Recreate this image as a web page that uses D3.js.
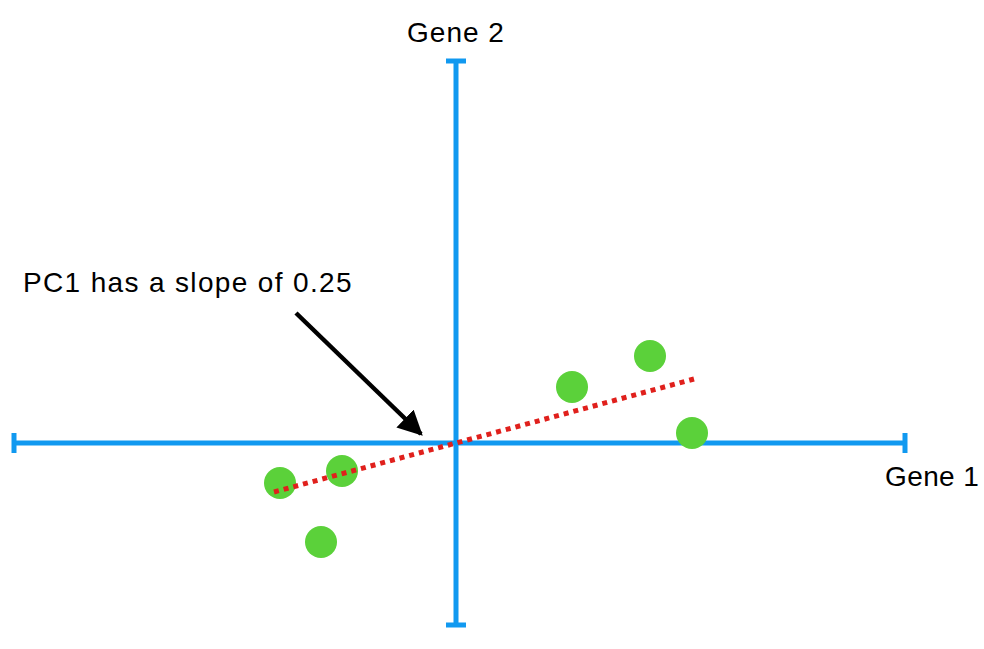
<!DOCTYPE html>
<html>
<head>
<meta charset="utf-8">
<script src="https://cdn.jsdelivr.net/npm/d3@7"></script>
<style>
  html, body { margin: 0; padding: 0; background: #fff; }
  svg { display: block; }
  text { font-family: "Liberation Sans", Arial, Helvetica, sans-serif; fill: #000; }
</style>
</head>
<body>
<script>
// Data (gene-space coordinates)
const gene1 = [-8.8, -5.7, -6.75, 5.8, 9.7, 11.8];
const gene2 = [-2.0, -1.4, -4.95, 2.8, 4.35, 0.5];
const pc1X = [-9.1, 11.9];
const pc1Y = [-2.45, 3.2];
const xExtent = [-22.1, 22.45];
const yExtent = [-9.1, 19.1];
const xLabel = "Gene 1";
const yLabel = "Gene 2";
const note = "PC1 has a slope of 0.25";

const W = 984, H = 649;
const svg = d3.select("body").append("svg").attr("width", W).attr("height", H);

const x = d3.scaleLinear().domain(xExtent).range([14, 905]);
const y = d3.scaleLinear().domain(yExtent).range([625, 61]);

const blue = "#1199f0";
const capH = 10;

// Horizontal axis
svg.append("line").attr("x1", x(xExtent[0])).attr("x2", x(xExtent[1]))
  .attr("y1", y(0)).attr("y2", y(0)).attr("stroke", blue).attr("stroke-width", 5);
xExtent.forEach(v => {
  svg.append("line").attr("x1", x(v)).attr("x2", x(v))
    .attr("y1", y(0) - capH).attr("y2", y(0) + capH)
    .attr("stroke", blue).attr("stroke-width", 5);
});
// Vertical axis
svg.append("line").attr("y1", y(yExtent[0])).attr("y2", y(yExtent[1]))
  .attr("x1", x(0)).attr("x2", x(0)).attr("stroke", blue).attr("stroke-width", 5);
yExtent.forEach(v => {
  svg.append("line").attr("y1", y(v)).attr("y2", y(v))
    .attr("x1", x(0) - capH).attr("x2", x(0) + capH)
    .attr("stroke", blue).attr("stroke-width", 5);
});

// Points
svg.selectAll("circle.pt").data(gene1.map((g, i) => [g, gene2[i]]))
  .join("circle").attr("class", "pt")
  .attr("cx", d => x(d[0])).attr("cy", d => y(d[1])).attr("r", 16)
  .attr("fill", "#5bd13a");

// PC1 dotted line
svg.append("line")
  .attr("x1", x(pc1X[0])).attr("y1", y(pc1Y[0]))
  .attr("x2", x(pc1X[1])).attr("y2", y(pc1Y[1]))
  .attr("stroke", "#e0201c").attr("stroke-width", 5)
  .attr("stroke-dasharray", "5,5");

// Labels
svg.append("text").attr("x", x(0)).attr("y", 42).attr("text-anchor", "middle")
  .attr("font-size", 28).attr("letter-spacing", 1.0).text(yLabel);
svg.append("text").attr("x", 885).attr("y", 486)
  .attr("font-size", 28).attr("letter-spacing", 0.4).text(xLabel);
svg.append("text").attr("x", 23).attr("y", 292)
  .attr("font-size", 28).attr("letter-spacing", 1.35).text(note);

// Arrow
const defs = svg.append("defs");
defs.append("marker").attr("id", "ah").attr("viewBox", "0 0 10 10")
  .attr("refX", 9).attr("refY", 5).attr("markerWidth", 5.5).attr("markerHeight", 5.5)
  .attr("markerUnits", "strokeWidth").attr("orient", "auto")
  .append("path").attr("d", "M0,0 L10,5 L0,10 Z").attr("fill", "#000");
svg.append("line").attr("x1", 296).attr("y1", 313).attr("x2", 421).attr("y2", 434)
  .attr("stroke", "#000").attr("stroke-width", 4.5).attr("marker-end", "url(#ah)");
</script>
</body>
</html>
